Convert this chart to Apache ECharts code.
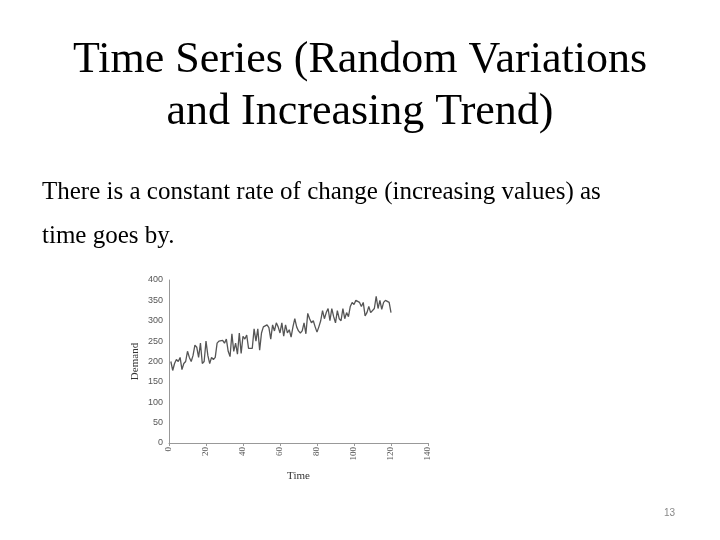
<!DOCTYPE html>
<html><head><meta charset="utf-8">
<script src="https://cdn.jsdelivr.net/npm/echarts@6/dist/echarts.min.js"></script>
<style>html,body{margin:0;padding:0;background:#fff}#c{width:720px;height:540px}</style>
</head><body><div id="c"></div>
<script>
var demand = [200,178,195,205,200,210,180,195,200,225,210,200,215,240,235,210,245,195,200,250,215,195,210,205,210,245,250,248,252,245,255,225,212,268,225,245,218,270,220,262,255,265,232,235,232,280,250,280,228,270,285,288,290,283,255,290,275,295,285,270,295,262,290,270,278,260,285,305,285,275,270,275,295,268,318,305,295,300,285,272,285,300,325,305,320,330,300,330,310,295,325,305,300,330,305,320,310,335,345,340,350,350,345,335,345,312,320,335,320,318,330,360,330,350,328,345,350,348,345,320];
var xTicks = [0,20,40,60,80,100,120,140];
var yTicks = [0,50,100,150,200,250,300,350,400];
var data = demand.map(function(v,i){return [i+1,v];});
var chart = echarts.init(document.getElementById('c'));
chart.setOption({
  animation:false,
  graphic:[
    {type:'text',left:'center',top:34,style:{text:'Time Series (Random Variations\nand Increasing Trend)',font:'44px "Liberation Serif"',fill:'#000',textAlign:'center',lineHeight:52}},
    {type:'text',left:42,top:170,style:{text:'There is a constant rate of change (increasing values) as\ntime goes by.',font:'25px "Liberation Serif"',fill:'#000',lineHeight:44}},
    {type:'text',left:664,top:508,style:{text:'13',font:'10px "Liberation Sans"',fill:'#888'}}
  ],
  grid:{left:169,right:292,top:280,bottom:97},
  xAxis:{type:'value',min:0,max:140,interval:20,name:'Time',nameLocation:'middle',nameGap:28,
    nameTextStyle:{fontFamily:'Liberation Serif',fontSize:11,color:'#333'},
    axisLine:{lineStyle:{color:'#999'}},axisTick:{show:true,length:3,lineStyle:{color:'#999'}},
    axisLabel:{rotate:90,fontSize:9,color:'#555',fontFamily:'Liberation Serif',margin:4},splitLine:{show:false}},
  yAxis:{type:'value',min:0,max:400,interval:50,name:'Demand',nameLocation:'middle',nameGap:28,
    nameTextStyle:{fontFamily:'Liberation Serif',fontSize:11,color:'#333'},
    axisLine:{show:true,lineStyle:{color:'#999'}},axisTick:{show:false},
    axisLabel:{fontSize:9,color:'#555',fontFamily:'Liberation Sans',margin:6},splitLine:{show:false}},
  series:[{type:'line',data:data,symbol:'none',lineStyle:{color:'#555',width:1.3}}]
});
</script></body></html>
